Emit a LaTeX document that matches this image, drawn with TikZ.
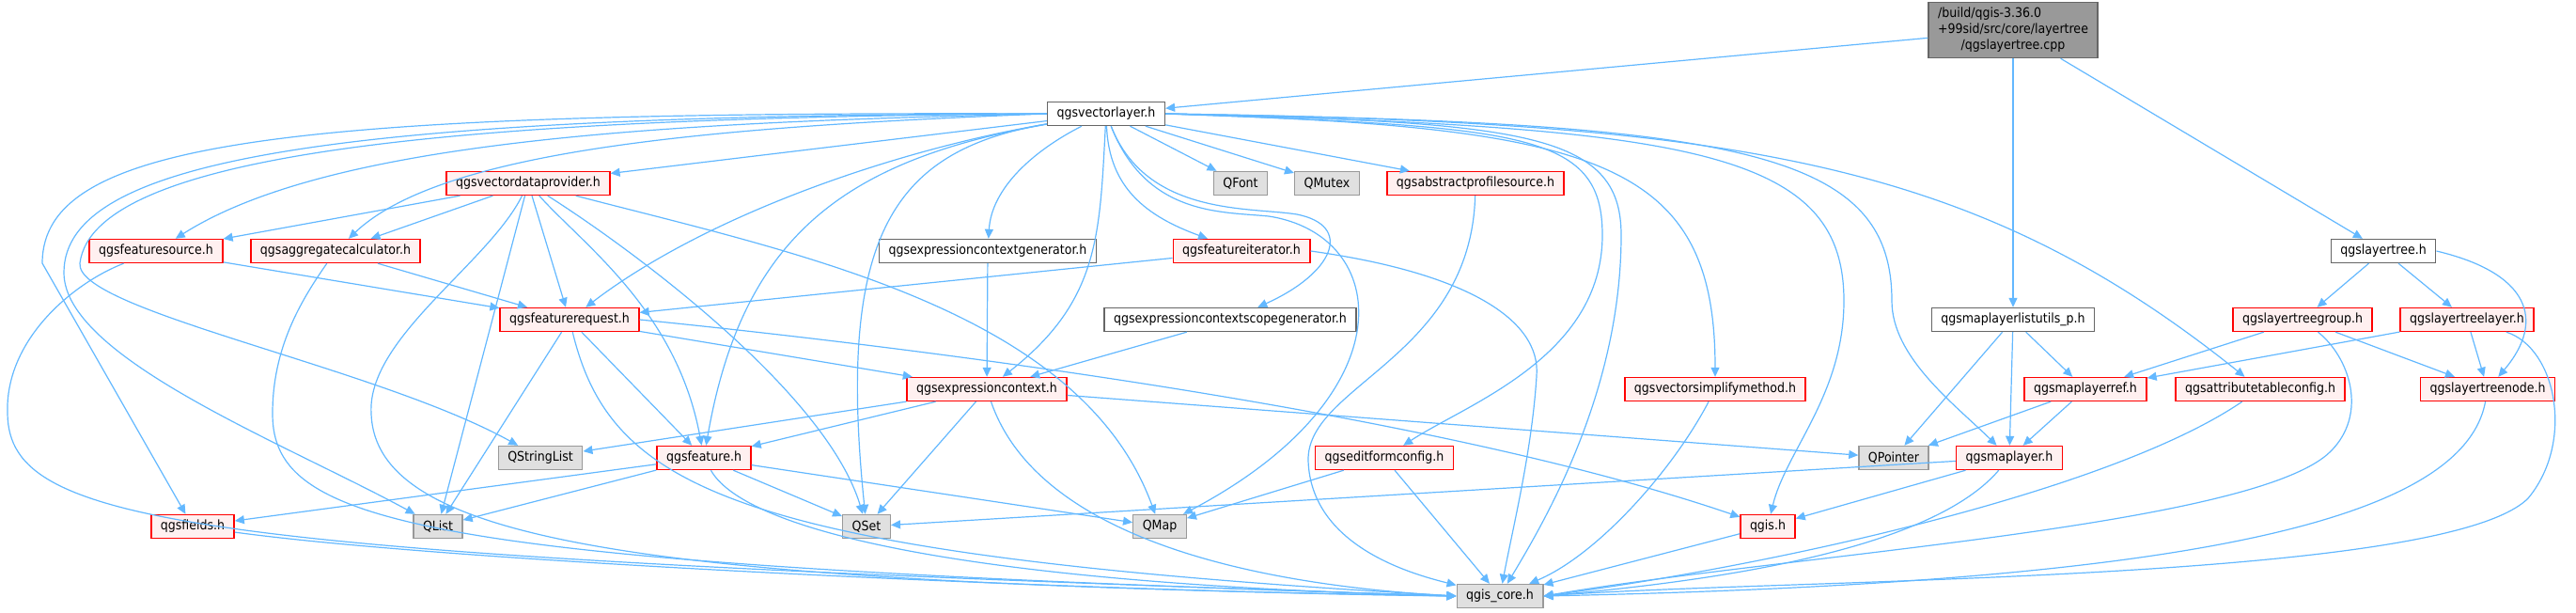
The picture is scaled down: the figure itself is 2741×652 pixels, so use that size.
\documentclass[tikz,border=0pt]{standalone}
\usepackage{fontspec}
\setmainfont{DejaVu Sans Condensed}
\usetikzlibrary{arrows.meta}
\definecolor{edgeblue}{HTML}{63B8FF}
\definecolor{redfill}{HTML}{FFF0F0}
\definecolor{qtfill}{HTML}{E0E0E0}
\definecolor{qtline}{HTML}{999999}
\definecolor{plainline}{HTML}{666666}
\definecolor{rootfill}{HTML}{999999}

\begin{document}
\begin{tikzpicture}[x=0.5pt, y=-0.5pt,
  file/.style={draw, line width=0.7pt, minimum height=12.5pt, inner xsep=5pt, inner ysep=1pt, font=\fontsize{7}{8.5}\selectfont},
  hfile/.style={file, draw=red, fill=redfill},
  qtfile/.style={file, draw=qtline, fill=qtfill},
  plain/.style={file, draw=plainline, fill=white},
  edge/.style={draw=edgeblue, line width=0.6pt, -{Triangle[length=5pt,width=4.5pt]}}]
\useasboundingbox (0,0) rectangle (2741,652);

\node[file, draw=plainline, fill=rootfill, inner ysep=2pt] (root) at (2142,32)
  {\begin{tabular}{@{}l@{}}/build/qgis-3.36.0\\+99sid/src/core/layertree\\\multicolumn{1}{@{}c@{}}{/qgslayertree.cpp}\end{tabular}};
\node[plain] (vl) at (1177,121) {qgsvectorlayer.h};
% row 2
\node[hfile] (vdp) at (562,195) {qgsvectordataprovider.h};
\node[qtfile] (qfont) at (1320,195) {QFont};
\node[qtfile] (qmutex) at (1412,195) {QMutex};
\node[hfile] (aps) at (1570,195) {qgsabstractprofilesource.h};
% row 3
\node[hfile] (fsrc) at (166,267) {qgsfeaturesource.h};
\node[hfile] (aggc) at (357,267) {qgsaggregatecalculator.h};
\node[plain] (ecg) at (1051,267) {qgsexpressioncontextgenerator.h};
\node[hfile] (fit) at (1321,267) {qgsfeatureiterator.h};
\node[plain] (lt) at (2536,267) {qgslayertree.h};
% row 4
\node[hfile] (freq) at (606,340) {qgsfeaturerequest.h};
\node[plain] (ecsg) at (1309,340) {qgsexpressioncontextscopegenerator.h};
\node[plain] (mlu) at (2142,340) {qgsmaplayerlistutils\_p.h};
\node[hfile] (ltg) at (2450,340) {qgslayertreegroup.h};
\node[hfile] (ltl) at (2625,340) {qgslayertreelayer.h};
% row 5
\node[hfile] (ectx) at (1050,414) {qgsexpressioncontext.h};
\node[hfile] (vsm) at (1825,414) {qgsvectorsimplifymethod.h};
\node[hfile] (mlr) at (2219,414) {qgsmaplayerref.h};
\node[hfile] (atc) at (2405,414) {qgsattributetableconfig.h};
\node[hfile] (ltn) at (2647,414) {qgslayertreenode.h};
% row 6
\node[qtfile] (qsl) at (575,487) {QStringList};
\node[hfile] (feat) at (749,487) {qgsfeature.h};
\node[hfile] (efc) at (1473,487) {qgseditformconfig.h};
\node[qtfile] (qptr) at (2015,487) {QPointer};
\node[hfile] (ml) at (2138,487) {qgsmaplayer.h};
% row 7
\node[hfile] (flds) at (205,560) {qgsfields.h};
\node[qtfile] (qlist) at (466,560) {QList};
\node[qtfile] (qset) at (922,560) {QSet};
\node[qtfile] (qmap) at (1234,560) {QMap};
\node[hfile] (qgis) at (1881,560) {qgis.h};
\node[qtfile] (core) at (1596,634) {qgis\_core.h};

\draw[edge] (root) -- (vl);
\draw[edge] (root) -- (mlu);
\draw[edge] (root) -- (lt);

% qgsvectorlayer.h
\draw[edge] (vl.west) .. controls (300,118) and (45,150) .. (45,280) -- (flds);
\draw[edge] (vl.west) .. controls (350,122) and (68,170) .. (68,290) .. controls (68,380) and (300,470) .. (qlist);
\draw[edge] (vl.west) .. controls (500,125) and (100,160) .. (85,280) .. controls (80,330) and (400,390) .. (qsl);
\draw[edge] (vl.west) .. controls (700,130) and (350,150) .. (fsrc);
\draw[edge] (vl.west) .. controls (750,135) and (470,160) .. (aggc);
\draw[edge] (vl) -- (vdp);
\draw[edge] (vl) .. controls (950,160) and (750,230) .. (freq);
\draw[edge] (vl) .. controls (900,170) and (790,250) .. (feat);
\draw[edge] (vl) .. controls (950,160) and (890,250) .. (qset);
\draw[edge] (vl) -- (qfont);
\draw[edge] (vl) -- (qmutex);
\draw[edge] (vl) -- (aps);
\draw[edge] (vl) .. controls (1100,160) and (1055,200) .. (ecg);
\draw[edge] (vl) .. controls (1180,200) and (1220,230) .. (fit);
\draw[edge] (vl) .. controls (1220,230) and (1330,220) .. (1380,228) .. controls (1440,240) and (1420,290) .. (ecsg);
\draw[edge] (vl) .. controls (1220,230) and (1300,225) .. (1350,230) .. controls (1480,250) and (1500,420) .. (qmap);
\draw[edge] (vl) .. controls (1170,250) and (1170,320) .. (ectx);
\draw[edge] (vl.east) .. controls (1620,130) and (1725,140) .. (1725,250) .. controls (1725,420) and (1640,560) .. (core);
\draw[edge] (vl.east) .. controls (1620,135) and (1705,140) .. (1705,250) .. controls (1705,380) and (1560,430) .. (efc);
\draw[edge] (vl.east) .. controls (1700,135) and (1825,170) .. (vsm);
\draw[edge] (vl.east) .. controls (1800,135) and (1962,160) .. (1962,320) .. controls (1962,420) and (1900,480) .. (qgis);
\draw[edge] (vl.east) .. controls (1850,130) and (2013,160) .. (2013,320) .. controls (2013,380) and (2080,430) .. (ml);
\draw[edge] (vl.east) .. controls (1850,130) and (2100,170) .. (atc);

% qgsvectordataprovider.h
\draw[edge] (vdp) -- (fsrc);
\draw[edge] (vdp) -- (aggc);
\draw[edge] (vdp) -- (freq);
\draw[edge] (vdp) .. controls (620,260) and (720,330) .. (feat);
\draw[edge] (vdp) -- (qlist);
\draw[edge] (vdp) .. controls (680,270) and (880,420) .. (qset);
\draw[edge] (vdp) .. controls (850,270) and (1150,330) .. (qmap);
\draw[edge] (vdp) .. controls (520,280) and (390,360) .. (395,440) .. controls (400,580) and (700,620) .. (core.west);

\draw[edge] (fsrc) -- (freq);
\draw[edge] (fsrc) .. controls (80,300) and (5,360) .. (8,440) .. controls (10,560) and (200,590) .. (core.west);
\draw[edge] (aggc) -- (freq);
\draw[edge] (aggc) .. controls (320,320) and (290,370) .. (290,440) .. controls (290,560) and (450,600) .. (core.west);
\draw[edge] (ecg) -- (ectx);
\draw[edge] (fit) -- (freq);
\draw[edge] (fit.east) .. controls (1560,290) and (1640,340) .. (1635,400) .. controls (1630,480) and (1610,560) .. (core);
\draw[edge] (aps) .. controls (1565,380) and (1390,410) .. (1392,490) .. controls (1395,580) and (1500,610) .. (core);
\draw[edge] (lt) -- (ltg);
\draw[edge] (lt) -- (ltl);
\draw[edge] (lt.east) .. controls (2690,290) and (2710,340) .. (ltn);
\draw[edge] (ecsg) -- (ectx);

% qgsfeaturerequest.h
\draw[edge] (freq) -- (ectx);
\draw[edge] (freq) -- (feat);
\draw[edge] (freq) -- (qlist);
\draw[edge] (freq.east) .. controls (900,362) and (1500,430) .. (qgis);
\draw[edge] (freq) .. controls (650,520) and (780,590) .. (core.west);

\draw[edge] (mlu) -- (qptr);
\draw[edge] (mlu) -- (ml);
\draw[edge] (mlu) -- (mlr);
\draw[edge] (ltg) -- (mlr);
\draw[edge] (ltg) -- (ltn);
\draw[edge] (ltg) .. controls (2500,380) and (2520,440) .. (2480,480) .. controls (2400,560) and (1900,590) .. (core.east);
\draw[edge] (ltl) -- (mlr);
\draw[edge] (ltl) -- (ltn);
\draw[edge] (ltl) .. controls (2720,370) and (2740,470) .. (2690,530) .. controls (2600,620) and (1900,615) .. (core.east);

% qgsexpressioncontext.h
\draw[edge] (ectx) -- (qsl);
\draw[edge] (ectx) -- (feat);
\draw[edge] (ectx) -- (qset);
\draw[edge] (ectx) -- (qptr);
\draw[edge] (ectx) .. controls (1100,560) and (1300,620) .. (core.west);

\draw[edge] (vsm) .. controls (1780,500) and (1700,590) .. (core);
\draw[edge] (mlr) -- (qptr);
\draw[edge] (mlr) -- (ml);
\draw[edge] (atc) .. controls (2250,520) and (1900,600) .. (core.east);
\draw[edge] (ltn) .. controls (2620,560) and (2300,620) .. (core.east);

% qgsfeature.h
\draw[edge] (feat) -- (flds);
\draw[edge] (feat) -- (qlist);
\draw[edge] (feat) -- (qset);
\draw[edge] (feat) -- (qmap);
\draw[edge] (feat) .. controls (790,560) and (1000,620) .. (core.west);

\draw[edge] (efc) -- (qmap);
\draw[edge] (efc) -- (core);
\draw[edge] (ml) -- (qset);
\draw[edge] (ml) -- (qgis);
\draw[edge] (ml) .. controls (2050,590) and (1800,620) .. (core.east);
\draw[edge] (flds) .. controls (500,600) and (1200,630) .. (core.west);
\draw[edge] (qgis) -- (core);
\end{tikzpicture}
\end{document}
